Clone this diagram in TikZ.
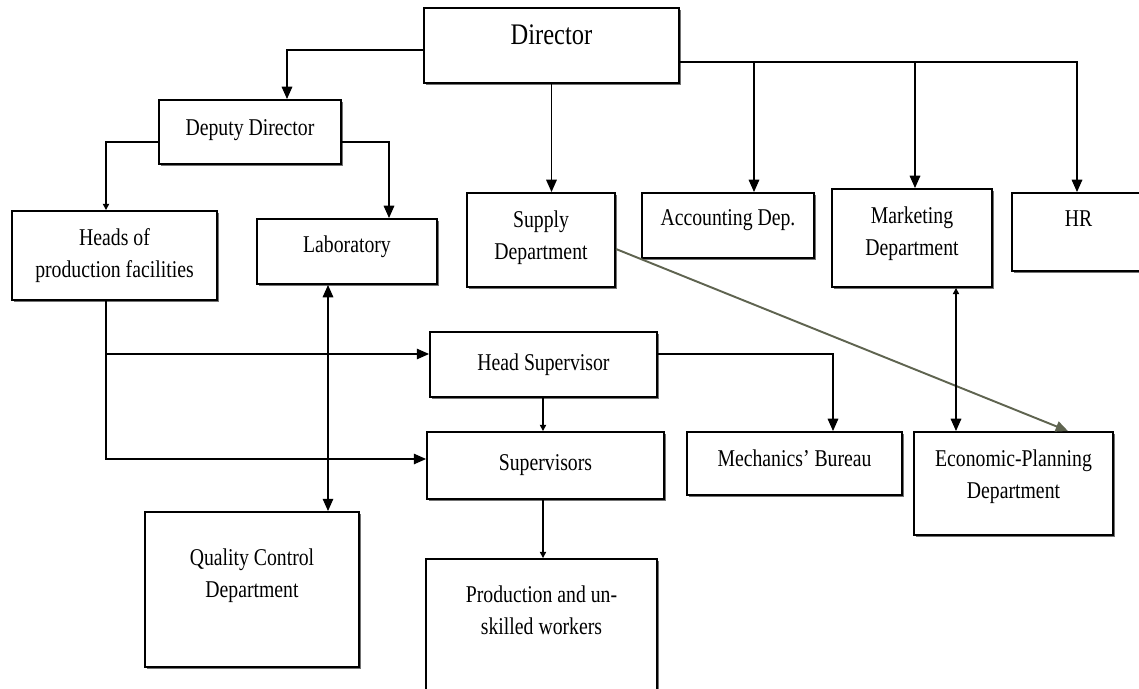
\documentclass[tikz,border=0pt]{standalone}
\usepackage{fontspec}
\setmainfont{Liberation Serif}[FakeStretch=0.82]
\usetikzlibrary{arrows.meta,shadows}
\definecolor{diagline}{RGB}{95,100,80}

\begin{document}
\begin{tikzpicture}[x=0.02cm, y=-0.02cm,
	box/.style={draw, line width=1.1pt, fill=white, align=center, inner sep=2pt,
		drop shadow={shadow xshift=0.9pt, shadow yshift=-1.2pt, fill=black!55, opacity=1},
		font=\fontsize{13.7}{18.2}\selectfont},
	arr/.style={line width=0.8pt, -{Triangle[length=7pt, width=6pt]}},
	tip/.style={line width=0.8pt, -{Triangle[length=3.5pt, width=3.5pt]}}]% org chart
	\useasboundingbox (0,0) rectangle (1139,689);
	\clip (0,0) rectangle (1139,689);
	% top level
	\node[box, minimum width=5.10cm, minimum height=1.50cm, text depth=0.42cm, font=\fontsize{17}{20}\selectfont] (dir) at (551.5,45.5) {Director};
	\node[box, minimum width=3.64cm, minimum height=1.28cm, text depth=0.16cm] (dep) at (250,132) {Deputy Director};
	% second row
	\node[box, minimum width=4.10cm, minimum height=1.78cm] (heads) at (114.5,255.5) {Heads of\\production facilities};
	\node[box, minimum width=3.60cm, minimum height=1.30cm, text depth=0.28cm] (lab) at (347,251.5) {Laboratory};
	\node[box, minimum width=2.96cm, minimum height=1.88cm, text depth=0.18cm] (sup) at (541,240) {Supply\\Department};
	\node[box, minimum width=3.44cm, minimum height=1.30cm, text depth=0.30cm] (acc) at (728,225.5) {Accounting Dep.};
	\node[box, minimum width=3.20cm, minimum height=1.96cm, text depth=0.28cm] (mkt) at (912,238) {Marketing\\Department};
	\node[box, minimum width=2.66cm, minimum height=1.56cm, text depth=0.54cm] (hr) at (1078.5,232) {HR};
	% production line
	\node[box, minimum width=4.54cm, minimum height=1.30cm] (hs) at (543.5,364.5) {Head Supervisor};
	\node[box, minimum width=4.74cm, minimum height=1.34cm] (sv) at (545.5,465.5) {Supervisors};
	\node[box, minimum width=4.30cm, minimum height=1.26cm, text depth=0.20cm] (mb) at (794.5,463.5) {Mechanics’ Bureau};
	\node[box, minimum width=3.98cm, minimum height=2.06cm, text depth=0.38cm] (ep) at (1013.5,483.5) {Economic-Planning\\Department};
	\node[box, minimum width=4.28cm, minimum height=3.10cm, text depth=0.66cm] (qc) at (252,589.5) {Quality Control\\Department};
	\node[box, minimum width=4.62cm, minimum height=2.82cm, text depth=0.78cm] (pw) at (541.5,629.5) {Production and un-\\skilled workers};
	% connectors
	\coordinate (bus) at (dir.east |- 0,62);
	\coordinate (hd) at (heads.south -| 106,0);
	\draw[arr] (dir.west |- 0,50) -| (dep.north -| 287,0);
	\draw[arr] (dir.south) -- (dir.south |- sup.north);
	\draw[arr] (bus) -| (hr.north -| 1077,0);
	\draw[arr] (bus -| 754,0) -- (acc.north -| 754,0);
	\draw[arr] (bus -| 915,0) -- (mkt.north -| 915,0);
	\draw[tip] (dep.west |- 0,142) -| (heads.north -| 106,0);
	\draw[arr] (dep.east |- 0,142) -| (lab.north -| 389,0);
	\draw[arr] (hd) |- (sv.west |- 0,459);
	\draw[arr] (hd |- 0,354) -- (hs.west |- 0,354);
	\draw[line width=0.8pt, {Triangle[length=7pt, width=6pt]}-{Triangle[length=7pt, width=6pt]}] (lab.south -| 328,0) -- (qc.north -| 328,0);
	\draw[tip] (hs.south -| 543,0) -- (sv.north -| 543,0);
	\draw[tip] (sv.south -| 543,0) -- (pw.north -| 543,0);
	\draw[arr] (hs.east |- 0,354) -| (mb.north -| 833,0);
	\draw[arr, draw=diagline, fill=diagline, line width=1.1pt] (sup.east |- 0,249) -- (ep.north -| 1068,0);
	\draw[line width=0.8pt, {Triangle[length=3.5pt, width=3.5pt]}-{Triangle[length=7pt, width=6pt]}] (mkt.south -| 956,0) -- (ep.north -| 956,0);
\end{tikzpicture}
\end{document}
